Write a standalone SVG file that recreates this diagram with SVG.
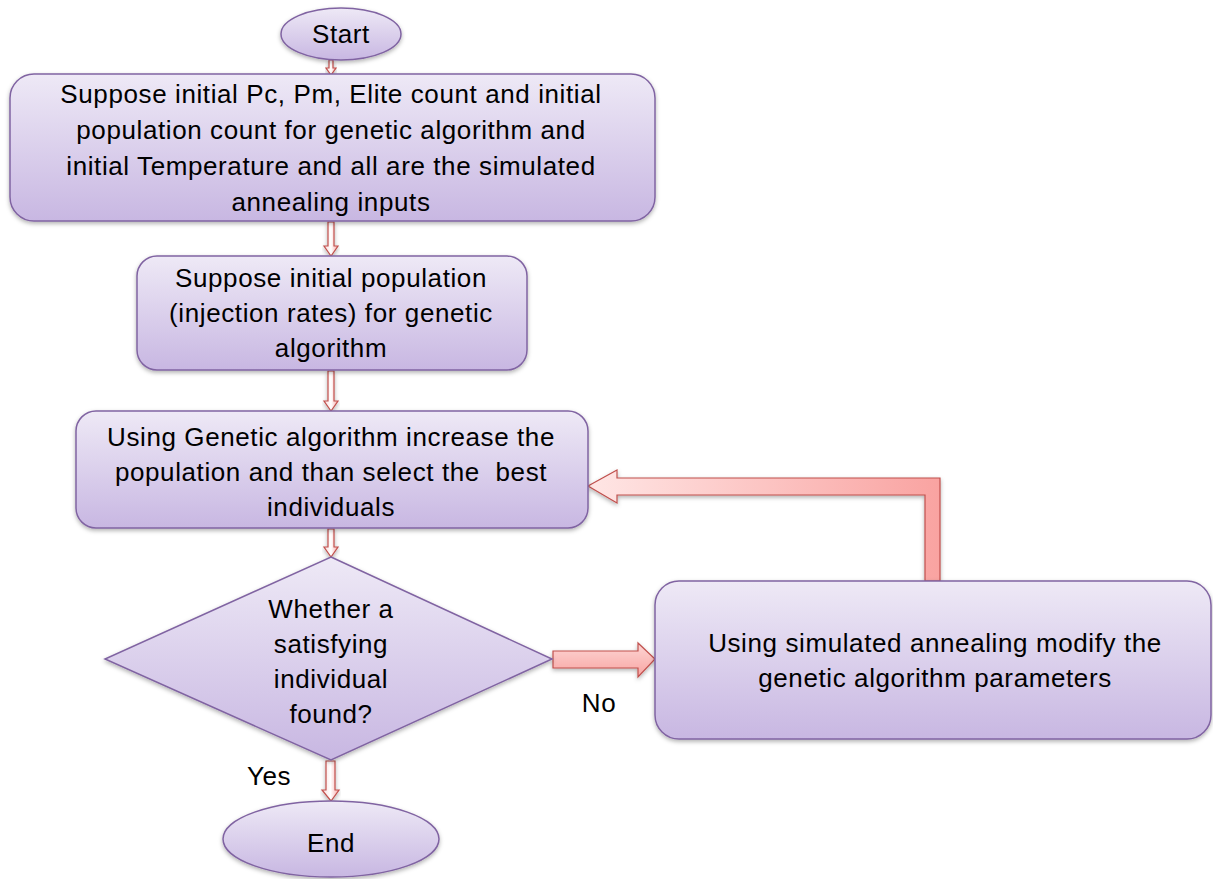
<svg xmlns="http://www.w3.org/2000/svg" width="1213" height="879" viewBox="0 0 1213 879">
<defs>
<linearGradient id="nodeFill" x1="0" y1="0" x2="0" y2="1">
<stop offset="0" stop-color="#eee9f6"/>
<stop offset="1" stop-color="#c8b7e2"/>
</linearGradient>
<linearGradient id="arrowV" x1="0" y1="0" x2="1" y2="0">
<stop offset="0" stop-color="#fbd9d8"/>
<stop offset="0.5" stop-color="#ffffff"/>
<stop offset="1" stop-color="#f7a8a6"/>
</linearGradient>
<linearGradient id="arrowH" x1="0" y1="0" x2="0" y2="1">
<stop offset="0" stop-color="#fdd6d5"/>
<stop offset="1" stop-color="#f8a4a2"/>
</linearGradient>
<linearGradient id="arrowFb" x1="588" y1="0" x2="940" y2="0" gradientUnits="userSpaceOnUse">
<stop offset="0" stop-color="#ffe6e5"/>
<stop offset="1" stop-color="#f9a3a1"/>
</linearGradient>
<filter id="shadow" x="-10%" y="-10%" width="120%" height="130%">
<feDropShadow dx="0" dy="2" stdDeviation="2" flood-color="#000" flood-opacity="0.3"/>
</filter>
</defs>
<style>
.node{fill:url(#nodeFill);stroke:#8064a2;stroke-width:1.5;filter:url(#shadow)}
.t{font-family:"Liberation Sans",Arial,sans-serif;font-size:26px;letter-spacing:0.6px;fill:#000;text-anchor:middle}
.lbl{font-family:"Liberation Sans",Arial,sans-serif;font-size:26px;letter-spacing:0.6px;fill:#000;text-anchor:middle}
.arr{stroke:#c0504d;stroke-width:1.2;stroke-linejoin:miter;filter:url(#shadow)}
</style>
<rect width="1213" height="879" fill="#ffffff"/>
<g id="connectors">
<polygon class="arr" fill="url(#arrowV)" points="329,60 333,60 333,68 336,68 331,75 326,68 329,68"/>
<polygon class="arr" fill="url(#arrowV)" points="328,222 334,222 334,246 338,246 331,256 324,246 328,246"/>
<polygon class="arr" fill="url(#arrowV)" points="328,371 334,371 334,401 338,401 331,411 324,401 328,401"/>
<polygon class="arr" fill="url(#arrowV)" points="328,529 334,529 334,547 338,547 331,557 324,547 328,547"/>
<polygon class="arr" fill="url(#arrowV)" points="326,761 335,761 335,790 339,790 331,801 322,790 326,790"/>
<polygon class="arr" fill="url(#arrowH)" points="553,651 638,651 638,643 655,659 638,677 638,668 553,668"/>
<polygon class="arr" fill="url(#arrowFb)" points="940,581 925,581 925,495 617,495 617,503 588,486 617,470 617,478 940,478"/>
<text class="lbl" x="599" y="712">No</text>
<text class="lbl" x="269" y="785">Yes</text>
</g>
<g id="start">
<ellipse class="node" cx="341" cy="34" rx="60" ry="26"/>
<text class="t" x="341" y="43">Start</text>
</g>
<g id="init-params">
<rect class="node" x="10" y="74" width="645" height="147" rx="24"/>
<text class="t" x="331" y="103">Suppose initial Pc, Pm, Elite count and initial</text>
<text class="t" x="331" y="139">population count for genetic algorithm and</text>
<text class="t" x="331" y="175">initial Temperature and all are the simulated</text>
<text class="t" x="331" y="211">annealing inputs</text>
</g>
<g id="init-population">
<rect class="node" x="137" y="256" width="390" height="114" rx="20"/>
<text class="t" x="331" y="287">Suppose initial population</text>
<text class="t" x="331" y="322">(injection rates) for genetic</text>
<text class="t" x="331" y="357">algorithm</text>
</g>
<g id="ga-step">
<rect class="node" x="76" y="411" width="512" height="117" rx="20"/>
<text class="t" x="331" y="446">Using Genetic algorithm increase the</text>
<text class="t" x="331" y="481" xml:space="preserve">population and than select the  best</text>
<text class="t" x="331" y="516">individuals</text>
</g>
<g id="decision">
<polygon class="node" points="331,557 552,659 331,760 105,659"/>
<text class="t" x="331" y="618">Whether a</text>
<text class="t" x="331" y="653">satisfying</text>
<text class="t" x="331" y="688">individual</text>
<text class="t" x="331" y="723">found?</text>
</g>
<g id="sa-step">
<rect class="node" x="655" y="581" width="556" height="158" rx="24"/>
<text class="t" x="935" y="652">Using simulated annealing modify the</text>
<text class="t" x="935" y="687">genetic algorithm parameters</text>
</g>
<g id="end">
<ellipse class="node" cx="331" cy="839" rx="108" ry="38"/>
<text class="t" x="331" y="852">End</text>
</g>
</svg>
